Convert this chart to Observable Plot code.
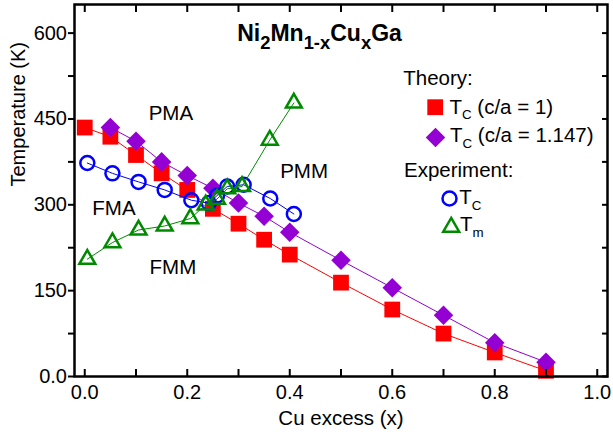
<!DOCTYPE html>
<html><head><meta charset="utf-8">
<script src="https://cdn.jsdelivr.net/npm/d3@7"></script>
<script src="https://cdn.jsdelivr.net/npm/@observablehq/plot@0.6"></script>
<style>body{margin:0;background:#fff}#chart{width:613px;height:437px}</style>
</head><body><div id="chart"></div>
<script>
// ---- data ----
const xTheoryCubic = [0, 0.05, 0.1, 0.15, 0.2, 0.25, 0.3, 0.35, 0.4, 0.5, 0.6, 0.7, 0.8, 0.9];
const tcCubic = [435, 419, 387, 355, 326, 293, 267, 239, 213, 164, 117, 75, 42, 10];
const xTheoryTet = [0.05, 0.1, 0.15, 0.2, 0.25, 0.3, 0.35, 0.4, 0.5, 0.6, 0.7, 0.8, 0.9];
const tcTet = [435, 411, 375, 351, 329, 303, 280, 252, 203, 155, 107, 59, 25];
const xExpTc = [0.005, 0.054, 0.105, 0.156, 0.208, 0.242, 0.258, 0.278, 0.31, 0.362, 0.408];
const expTc = [373, 355, 340, 326, 308, 303, 316, 332, 335, 311, 284];
const xExpTm = [0.005, 0.054, 0.105, 0.156, 0.206, 0.236, 0.258, 0.278, 0.307, 0.361, 0.408];
const expTm = [205, 234, 256, 263, 276, 300, 310, 328, 332, 413, 478];

const regionLabels = ["PMA", "FMA", "FMM", "PMM"];
const regionX = [0.168, 0.057, 0.172, 0.428];
const regionT = [459, 294, 191, 359];

const xTicks = [0, 0.1, 0.2, 0.3, 0.4, 0.5, 0.6, 0.7, 0.8, 0.9, 1.0];
const xLabelTicks = [0, 0.2, 0.4, 0.6, 0.8, 1.0];
const xTickLabels = ["0.0", "0.2", "0.4", "0.6", "0.8", "1.0"];
const yTicks = [0, 75, 150, 225, 300, 375, 450, 525, 600];
const yLabelTicks = [0, 150, 300, 450, 600];
const yTickLabels = ["0.0", "150", "300", "450", "600"];

const titleText = "Ni_{2}Mn_{1-x}Cu_{x}Ga";
const xLabel = "Cu excess (x)";
const yLabel = "Temperature (K)";
const legendLabels = ["Theory:", "T_{C} (c/a = 1)", "T_{C} (c/a = 1.147)", "Experiment:", "T_{C}", "T_{m}"];

// ---- styles / layout ----
const FONT = "'Liberation Sans', Arial, Helvetica, sans-serif";
const RED = "#ff0000", PURPLE = "#9400d3", BLUE = "#0000ff", GREEN = "#008a00";
const R_SQ = 8.9, R_DIA = 8.8, R_CIR = 7.0, R_TRI = 5.9;
const legendSym = [null, {symbol: d3.symbolSquare, fill: RED, r: R_SQ}, {symbol: d3.symbolDiamond2, fill: PURPLE, r: R_DIA},
  null, {symbol: d3.symbolCircle, stroke: BLUE, r: R_CIR}, {symbol: d3.symbolTriangle, stroke: GREEN, r: R_TRI}];
// pixel offsets relative to the frame's top-left corner
const LFS = 20.5;
const legendTextDx = [328.8, 375, 375.5, 329.5, 384.8, 385.5];
const legendBase = [84, 113.3, 141.7, 176.7, 203.5, 230.7];
const legendSymDx = [0, 360.7, 361, 0, 375, 376.7];
const legendSymDy = [0, 102.7, 133, 0, 194, 222.6];

const cubic = xTheoryCubic.map((x, i) => ({x, T: tcCubic[i]}));
const tet = xTheoryTet.map((x, i) => ({x, T: tcTet[i]}));
const eTc = xExpTc.map((x, i) => ({x, T: expTc[i]}));
const eTm = xExpTm.map((x, i) => ({x, T: expTm[i]}));
const regions = regionLabels.map((t, i) => ({t, x: regionX[i], T: regionT[i]}));

const legendMarks = [];
legendLabels.forEach((lab, i) => {
  legendMarks.push(Plot.text([lab], {frameAnchor: "top-left", text: d => d, dx: legendTextDx[i], dy: legendBase[i] - 4 - 0.32 * LFS,
    textAnchor: "start", lineAnchor: "middle", fontSize: LFS, fill: "black"}));
  const s = legendSym[i];
  if (s) legendMarks.push(Plot.dot([lab], {frameAnchor: "top-left", dx: legendSymDx[i], dy: legendSymDy[i],
    symbol: s.symbol, r: s.r, fill: s.fill || "none", stroke: s.stroke || "none", strokeWidth: s.stroke ? 2.5 : 0}));
});

const chart = Plot.plot({
  width: 613, height: 437,
  marginLeft: 74, marginRight: 6, marginTop: 4, marginBottom: 61,
  x: {domain: [-0.02, 1.02]},
  y: {domain: [0, 650]},
  style: {fontFamily: FONT, fontSize: "20px", color: "black", background: "white"},
  marks: [
    Plot.line(cubic, {x: "x", y: "T", stroke: RED, strokeWidth: 1}),
    Plot.dot(cubic, {x: "x", y: "T", symbol: d3.symbolSquare, r: R_SQ, fill: RED}),
    Plot.line(tet, {x: "x", y: "T", stroke: PURPLE, strokeWidth: 1}),
    Plot.dot(tet, {x: "x", y: "T", symbol: d3.symbolDiamond2, r: R_DIA, fill: PURPLE}),
    Plot.line(eTc, {x: "x", y: "T", stroke: BLUE, strokeWidth: 1}),
    Plot.dot(eTc, {x: "x", y: "T", symbol: d3.symbolCircle, r: R_CIR, fill: "none", stroke: BLUE, strokeWidth: 2.5}),
    Plot.line(eTm, {x: "x", y: "T", stroke: GREEN, strokeWidth: 1}),
    Plot.dot(eTm, {x: "x", y: "T", symbol: d3.symbolTriangle, r: R_TRI, fill: "none", stroke: GREEN, strokeWidth: 2.5}),
    Plot.text(regions, {x: "x", y: "T", text: "t", fontSize: 20.5, fill: "black"}),
    // axes
    Plot.axisY({ticks: yTicks, tickSize: 6, tickPadding: 1.5, strokeWidth: 2, fontSize: 20,
      tickFormat: d => { const k = yLabelTicks.indexOf(d); return k >= 0 ? yTickLabels[k] : ""; }, label: null}),
    Plot.axisY({anchor: "right", ticks: yTicks, tickSize: 6, dx: -6, strokeWidth: 2, tickFormat: () => "", label: null}),
    Plot.axisX({anchor: "top", ticks: xTicks, tickSize: 7, dy: 7, strokeWidth: 2, tickFormat: () => "", label: null}),
    Plot.axisX({anchor: "bottom", ticks: xTicks, tickSize: 7, dy: -7, strokeWidth: 2, tickFormat: () => "", label: null}),
    Plot.axisX({anchor: "bottom", ticks: xLabelTicks, tickSize: 0, tickPadding: 8, fontSize: 20,
      tickFormat: d => { const k = xLabelTicks.indexOf(d); return k >= 0 ? xTickLabels[k] : ""; }, label: null}),
    Plot.frame({stroke: "black", strokeWidth: 2.5}),
    Plot.text([xLabel], {frameAnchor: "bottom", text: d => d, dy: 42.4, lineAnchor: "middle", fontSize: 20.5, fill: "black"}),
    Plot.text([yLabel], {frameAnchor: "left", text: d => d, dx: -56, dy: -4, rotate: -90, lineAnchor: "middle", fontSize: 20, fill: "black"}),
    Plot.text([titleText], {frameAnchor: "top", text: d => d, dx: -21.5, dy: 29.5, lineAnchor: "middle", fontSize: 23, fontWeight: "bold", fill: "black"}),
    ...legendMarks
  ]
});

// turn "_{...}" into subscript tspans
function richText(svg) {
  d3.select(svg).selectAll("text").each(function() {
    const raw = this.textContent;
    if (!raw.includes("_{")) return;
    const isTitle = raw === titleText;
    const scale = isTitle ? 0.8 : 0.65;
    const shift = isTitle ? 0.33 : 0.27;
    const el = d3.select(this);
    const parts = raw.split(/(_\{[^}]*\})/).filter(s => s.length);
    el.text(null);
    let inSub = false;
    for (const p of parts) {
      if (p.startsWith("_{")) {
        el.append("tspan").attr("font-size", scale + "em").attr("dy", (shift / scale) + "em").text(p.slice(2, -1));
        inSub = true;
      } else {
        const ts = el.append("tspan").text(p);
        if (inSub) ts.attr("dy", (-shift) + "em");
        inSub = false;
      }
    }
  });
}
richText(chart);
document.getElementById("chart").appendChild(chart);
</script></body></html>
